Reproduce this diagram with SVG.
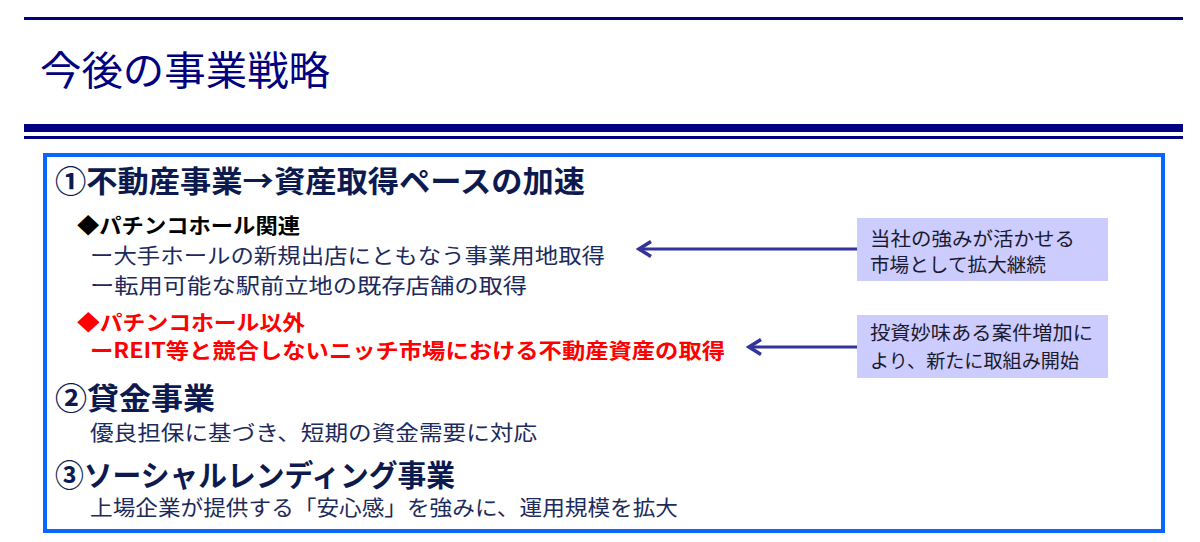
<svg xmlns="http://www.w3.org/2000/svg" width="1200" height="542" viewBox="0 0 1200 542">
  <defs>
    <style>
      text { font-family: "Noto Sans CJK JP", "Noto Sans", sans-serif; }
      .title { font-size: 40px; fill: #000080; }
      .head { font-size: 30px; font-weight: bold; fill: #0d1a4f; }
      .sub { font-size: 21px; font-weight: bold; fill: #000000; }
      .body { font-size: 21px; fill: #1c2a5c; }
      .red { fill: #ff0000; }
      .note { font-size: 19px; fill: #1a1a2e; }
      .nbox { fill: #ccccff; }
      .rule { fill: #000080; }
      .conn { stroke: #333399; stroke-width: 3; fill: none; }
    </style>
    <marker id="arrow" markerUnits="userSpaceOnUse" viewBox="0 0 18 18" markerWidth="18" markerHeight="18" refX="15" refY="9" orient="auto">
      <path d="M3,1.5 L15,9 L3,16.5" fill="none" stroke="#333399" stroke-width="3.5" stroke-linejoin="miter"/>
    </marker>
  </defs>
  <rect width="1200" height="542" fill="#ffffff"/>

  <g id="header">
    <rect class="rule" x="24" y="17" width="1159" height="3"/>
    <text class="title" x="40" y="85" textLength="290" lengthAdjust="spacingAndGlyphs">今後の事業戦略</text>
    <rect class="rule" x="24" y="124" width="1159" height="8"/>
    <rect class="rule" x="24" y="136" width="1159" height="3"/>
  </g>

  <g id="main-box">
    <rect x="45" y="155" width="1118" height="376" fill="none" stroke="#0a66ff" stroke-width="4"/>
  </g>

  <g id="section1">
    <text class="head" x="55" y="192" textLength="530" lengthAdjust="spacingAndGlyphs">①不動産事業→資産取得ペースの加速</text>
    <text class="sub" x="77" y="233" textLength="223" lengthAdjust="spacingAndGlyphs">◆パチンコホール関連</text>
    <text class="body" x="90" y="263" textLength="515" lengthAdjust="spacingAndGlyphs">ー大手ホールの新規出店にともなう事業用地取得</text>
    <text class="body" x="90" y="293" textLength="437" lengthAdjust="spacingAndGlyphs">ー転用可能な駅前立地の既存店舗の取得</text>
    <text class="sub red" x="77" y="330" textLength="228" lengthAdjust="spacingAndGlyphs">◆パチンコホール以外</text>
    <text class="sub red" x="90" y="358" textLength="635" lengthAdjust="spacingAndGlyphs">ーREIT等と競合しないニッチ市場における不動産資産の取得</text>
  </g>

  <g id="section2">
    <text class="head" x="55" y="409" textLength="160" lengthAdjust="spacingAndGlyphs">②貸金事業</text>
    <text class="body" x="90" y="440" textLength="447" lengthAdjust="spacingAndGlyphs">優良担保に基づき、短期の資金需要に対応</text>
  </g>

  <g id="section3">
    <text class="head" x="55" y="486" textLength="400" lengthAdjust="spacingAndGlyphs">③ソーシャルレンディング事業</text>
    <text class="body" x="90" y="515" textLength="588" lengthAdjust="spacingAndGlyphs">上場企業が提供する「安心感」を強みに、運用規模を拡大</text>
  </g>

  <g id="note1">
    <rect class="nbox" x="857" y="218" width="251" height="63"/>
    <text class="note" x="870" y="246" textLength="205" lengthAdjust="spacingAndGlyphs">当社の強みが活かせる</text>
    <text class="note" x="870" y="272" textLength="176" lengthAdjust="spacingAndGlyphs">市場として拡大継続</text>
  </g>

  <g id="note2">
    <rect class="nbox" x="857" y="315" width="251" height="63"/>
    <text class="note" x="870" y="340" textLength="223" lengthAdjust="spacingAndGlyphs">投資妙味ある案件増加に</text>
    <text class="note" x="870" y="368" textLength="209" lengthAdjust="spacingAndGlyphs">より、新たに取組み開始</text>
  </g>

  <g id="connectors">
    <line class="conn" x1="857" y1="249" x2="639" y2="249" marker-end="url(#arrow)"/>
    <line class="conn" x1="857" y1="347" x2="749" y2="347" marker-end="url(#arrow)"/>
  </g>
</svg>
